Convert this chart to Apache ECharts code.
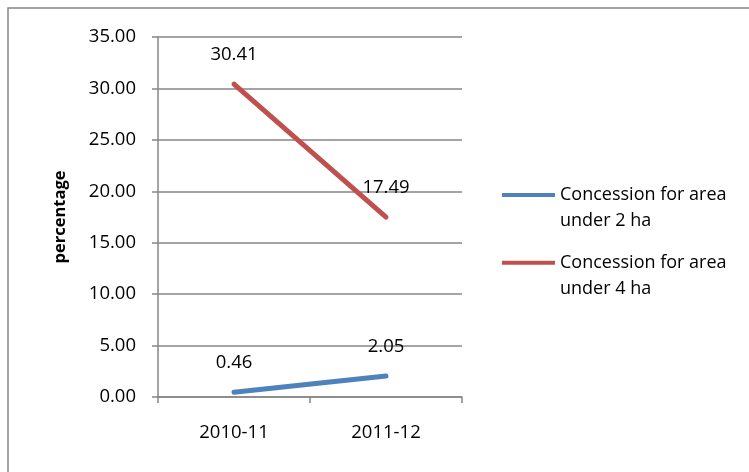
<!DOCTYPE html>
<html>
<head>
<meta charset="utf-8">
<script src="https://cdn.jsdelivr.net/npm/echarts@6/dist/echarts.min.js"></script>
<style>
  html, body { margin: 0; padding: 0; background: #fff; }
  #chart { width: 749px; height: 472px; }
</style>
</head>
<body>
<div id="chart"></div>
<script>
// data
var years = ['2010-11', '2011-12'];
var seriesNames = ['Concession for area under 2 ha', 'Concession for area under 4 ha'];
var under2ha = [0.46, 2.05];
var under4ha = [30.41, 17.49];
var colors = ['#4F81BD', '#C0504D'];

var myChart = echarts.init(document.getElementById('chart'));
var font = '"Open Sans", "Noto Sans", sans-serif';
var grey = '#868686';

function lineSeries(name, data, color) {
	return {
		name: name,
		type: 'line',
		data: data,
		symbol: 'circle',
		symbolSize: 0,
		showSymbol: true,
		color: color,
		lineStyle: { width: 5, color: color, cap: 'round' },
		label: {
			show: true,
			position: 'top',
			distance: 20,
			formatter: function (p) { return p.value.toFixed(2); },
			color: '#000',
			fontFamily: font,
			fontSize: 18.5
		}
	};
}

var option = {
	animation: false,
	backgroundColor: '#fff',
	textStyle: { fontFamily: font },
	graphic: [{
		type: 'rect',
		shape: { x: 8, y: 8, width: 800, height: 520 },
		style: { fill: 'none', stroke: grey, lineWidth: 1.5 },
		z: -1
	}],
	grid: { left: 158, right: 287, top: 37, bottom: 75 },
	legend: {
		orient: 'vertical',
		left: 502,
		top: 156,
		padding: 0,
		itemWidth: 53,
		itemHeight: 4,
		itemGap: -10.3,
		icon: 'rect',
		data: seriesNames,
		// blank first line so the icon sits beside the first text line
		formatter: function (name) {
			return ' \n' + name.replace(' under', '\nunder');
		},
		textStyle: {
			fontFamily: font,
			fontSize: 18,
			color: '#000',
			lineHeight: 26
		}
	},
	xAxis: {
		type: 'category',
		data: years,
		boundaryGap: true,
		axisLine: { lineStyle: { color: grey, width: 1.5 } },
		axisTick: { show: true, inside: false, length: 6, lineStyle: { color: grey, width: 1.5 } },
		axisLabel: { color: '#000', fontSize: 18.5, fontFamily: font, margin: 26 }
	},
	yAxis: {
		type: 'value',
		min: 0,
		max: 35,
		interval: 5,
		name: 'percentage',
		nameLocation: 'middle',
		nameRotate: 90,
		nameGap: 89,
		nameTextStyle: { color: '#000', fontWeight: 'bold', fontSize: 16.5, fontFamily: font },
		axisLine: { show: true, lineStyle: { color: grey, width: 1.5 } },
		axisTick: { show: true, inside: false, length: 6, lineStyle: { color: grey, width: 1.5 } },
		splitLine: { show: true, lineStyle: { color: grey, width: 1.5 } },
		axisLabel: {
			color: '#000',
			fontSize: 18.5,
			fontFamily: font,
			margin: 22,
			formatter: function (v) { return v.toFixed(2); }
		}
	},
	series: [
		lineSeries(seriesNames[0], under2ha, colors[0]),
		lineSeries(seriesNames[1], under4ha, colors[1])
	]
};

myChart.setOption(option);
</script>
</body>
</html>
